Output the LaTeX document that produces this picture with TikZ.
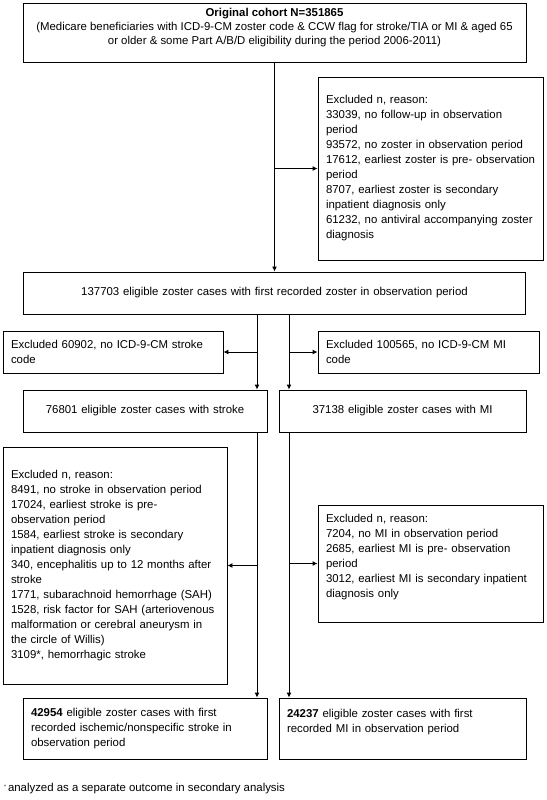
\documentclass[tikz,border=0pt]{standalone}
\usepackage{fontspec}
\setmainfont{Liberation Sans}
\usetikzlibrary{arrows.meta}
\newcommand\keepline[1]{\mbox{#1}}
\begin{document}
\begin{tikzpicture}[x=1pt,y=-1pt,
  box/.style={draw, line width=0.9pt, rectangle, inner xsep=8pt, inner ysep=0pt,
    font=\fontsize{11.4}{15}\selectfont, align=left},
  arr/.style={line width=0.9pt, -{Latex[length=5pt,width=5pt]}},
  txt/.style={font=\fontsize{11.4}{15}\selectfont, inner sep=0pt}
]
\useasboundingbox (0,0) rectangle (546,800);

\node[box, minimum width=503pt, minimum height=59pt] (top) at (274.5,32.5) {};
\node[txt, align=center, font=\fontsize{11.4}{14}\selectfont] (toptxt) at (274.5,28)
 {\textbf{Original cohort N=351865}\\(Medicare beneficiaries with ICD-9-CM zoster code \& CCW flag for stroke/TIA or MI \& aged 65\\or older \& some Part A/B/D eligibility during the period 2006-2011)};

\node[box, text width=209pt, minimum height=183pt] (ex1) at (430.5,168.5)
 {\keepline{Excluded n, reason:}\\\keepline{33039, no follow-up in observation}\\period\\\keepline{93572, no zoster in observation period}\\\keepline{17612, earliest zoster is pre- observation}\\period\\\keepline{8707, earliest zoster is secondary}\\\keepline{inpatient diagnosis only}\\\keepline{61232, no antiviral accompanying zoster}\\diagnosis};

\node[box, align=center, text width=486pt, minimum height=42pt] (elig) at (274.5,293)
 {137703 eligible zoster cases with first recorded zoster in observation period};

\node[box, text width=204pt, minimum height=42pt] (exs) at (113,352)
 {\keepline{Excluded 60902, no ICD-9-CM stroke}\\code};
\node[box, text width=205pt, minimum height=42pt] (exm) at (428.5,352)
 {\keepline{Excluded 100565, no ICD-9-CM MI}\\code};

\node[box, align=center, text width=228pt, minimum height=42pt] (stroke) at (145,411)
 {76801 eligible zoster cases with stroke};
\node[box, align=center, text width=231pt, minimum height=42pt] (mi) at (402.5,411)
 {37138 eligible zoster cases with MI};

\node[box, text width=208pt, minimum height=237pt] (exs2) at (115,565.5)
 {Excluded n, reason:\\\keepline{8491, no stroke in observation period}\\\keepline{17024, earliest stroke is pre-}\\observation period\\\keepline{1584, earliest stroke is secondary}\\inpatient diagnosis only\\\keepline{340, encephalitis up to 12 months after}\\stroke\\\keepline{1771, subarachnoid hemorrhage (SAH)}\\\keepline{1528, risk factor for SAH (arteriovenous}\\\keepline{malformation or cerebral aneurysm in}\\\keepline{the circle of Willis)}\\\keepline{3109*, hemorrhagic stroke}};
\node[box, text width=209pt, minimum height=117pt] (exm2) at (430.5,563.5)
 {Excluded n, reason:\\\keepline{7204, no MI in observation period}\\\keepline{2685, earliest MI is pre- observation}\\period\\\keepline{3012, earliest MI is secondary inpatient}\\diagnosis only\\\mbox{}};

\node[box, text width=228pt, minimum height=61pt] (fs) at (145,728.5)
 {\keepline{\textbf{42954} eligible zoster cases with first}\\\keepline{recorded ischemic/nonspecific stroke in}\\observation period};
\node[box, text width=231pt, minimum height=61pt] (fm) at (402.5,728.5)
 {\keepline{\textbf{24237} eligible zoster cases with first}\\\keepline{recorded MI in observation period}\\\mbox{}};

\node[txt, anchor=west] (fn) at (4,789) {\raisebox{0.6ex}{\fontsize{5}{5}\selectfont *}\,analyzed as a separate outcome in secondary analysis};

\coordinate (L) at (257,0);
\coordinate (R) at (289,0);

\draw[arr] (top) -- (elig);
\draw[arr] (top.south |- ex1.west) -- (ex1.west);

\draw[arr] (elig.south -| L) -- (stroke.north -| L);
\draw[arr] (elig.south -| R) -- (mi.north -| R);
\draw[arr] (exs.east -| L) -- (exs.east);
\draw[arr] (exm.west -| R) -- (exm.west);

\draw[arr] (stroke.south -| L) -- (fs.north -| L);
\draw[arr] (mi.south -| R) -- (fm.north -| R);
\draw[arr] (exs2.east -| L) -- (exs2.east);
\draw[arr] (exm2.west -| R) -- (exm2.west);
\end{tikzpicture}
\end{document}
